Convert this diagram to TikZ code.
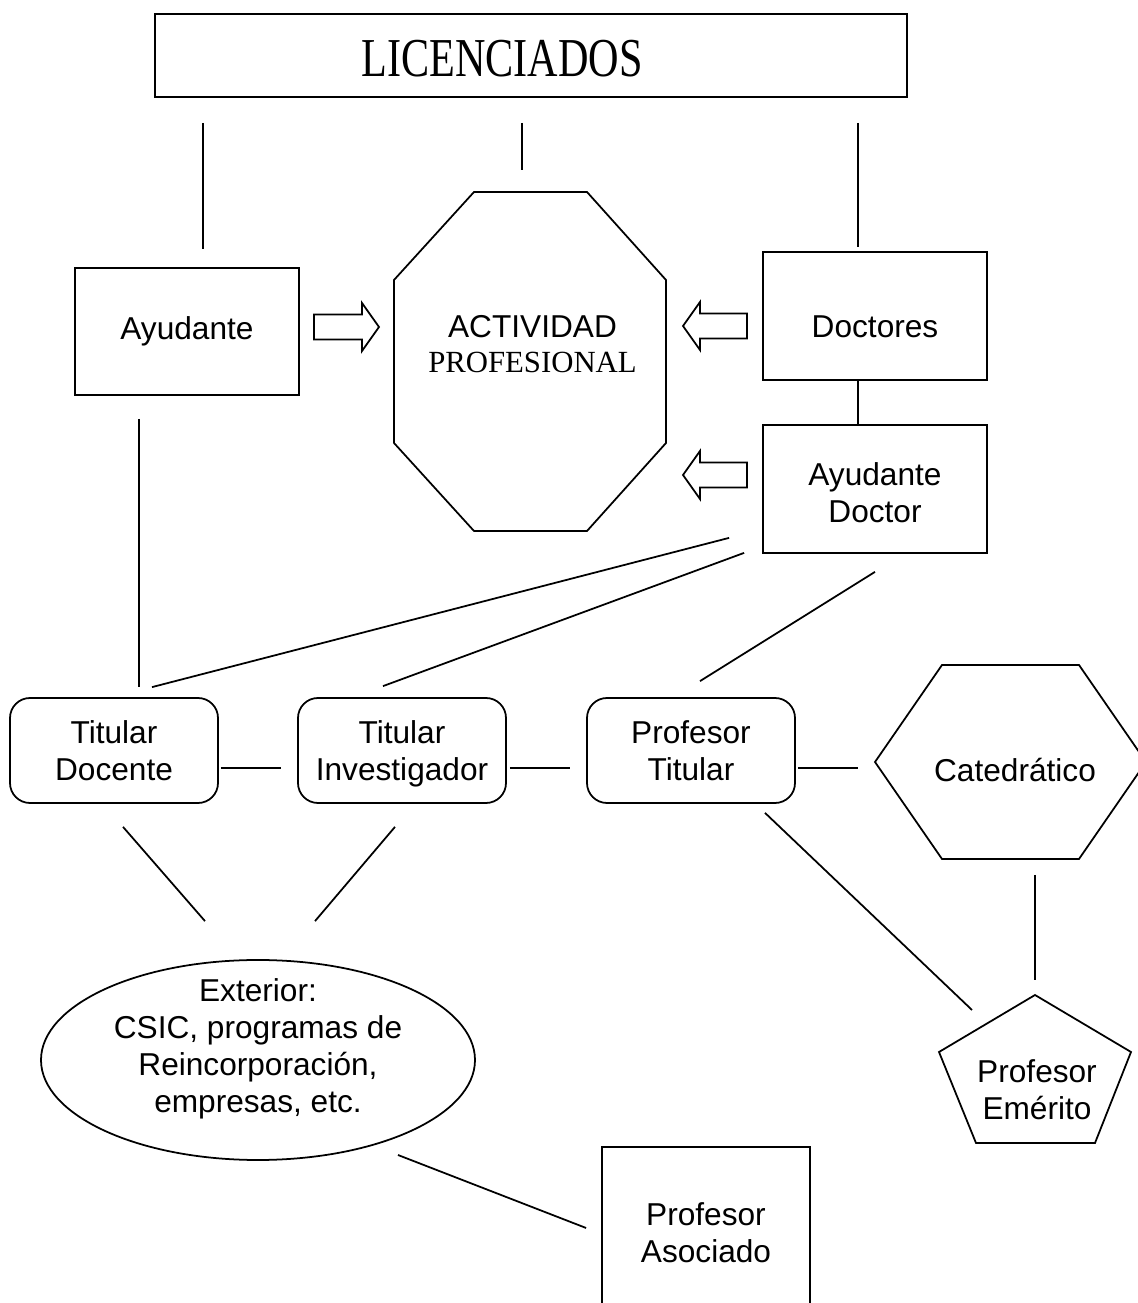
\documentclass[tikz,border=0pt]{standalone}
\usepackage{fontspec}
\setmainfont{Liberation Sans}
\newfontfamily\romana{Liberation Serif}
\usepackage{graphicx}
\usetikzlibrary{shapes.geometric,positioning}

\tikzset{
  caja/.style={draw,minimum width=4.48cm,minimum height=2.56cm,align=center,inner sep=0pt},
  plaza/.style={draw,rounded corners=0.4cm,minimum width=4.16cm,minimum height=2.10cm,align=center,inner sep=0pt,text depth=0pt},
  texto/.style={align=center,inner sep=0pt},
}

\begin{document}
\begin{tikzpicture}[line width=1pt,font=\fontsize{18}{21}\selectfont]
  \useasboundingbox (0,0) rectangle (22.76,26.06);
  \clip (0,0) rectangle (22.76,26.06);
  % licenciados
  \node[draw,minimum width=15.04cm,minimum height=1.66cm] (lic) at (10.62,24.95) {};
  \node[texto] at (10.04,24.88) {\romana\fontsize{24}{28}\selectfont\scalebox{1}[1.3]{LICENCIADOS}};
  % cajas
  \node[caja,minimum height=2.54cm] (ayud) at (3.74,19.43) {Ayudante};
  \node[caja,text height=24pt,text depth=0pt] (doct) at (17.50,19.74) {Doctores};
  \node[caja,text height=38.5pt,text depth=0pt] (ayd) at (17.50,16.28) {Ayudante\\Doctor};
  % actividad profesional
  \draw (7.88,20.46) -- (7.88,17.20) -- (9.48,15.44) -- (11.74,15.44) -- (13.32,17.20)
    -- (13.32,20.46) -- (11.74,22.22) -- (9.48,22.22) -- cycle;
  \coordinate (octa) at (10.44,22.22);
  \node[texto] (act) at (10.65,19.18) {ACTIVIDAD\\[-1pt]{\romana\fontsize{17.5}{21}\selectfont PROFESIONAL}};
  % flechas huecas
  \draw (6.28,19.27) -- (7.24,19.27) -- (7.24,19.04) -- (7.58,19.52) -- (7.24,20.00) -- (7.24,19.77) -- (6.28,19.77) -- cycle;
  \foreach \y in {19.54,16.56}
    \draw[shift={(0,\y)}] (14.94,-0.25) -- (14.00,-0.25) -- (14.00,-0.48) -- (13.66,0) -- (14.00,0.48) -- (14.00,0.25) -- (14.94,0.25) -- cycle;
  % titulares
  \node[plaza] (tdoc) at (2.28,11.05) {Titular\\Docente};
  \node[plaza] (tinv) at (8.04,11.05) {Titular\\Investigador};
  \node[plaza] (ptit) at (13.82,11.05) {Profesor\\Titular};
  % catedratico
  \draw (17.50,10.82) coordinate (hexi) -- (18.84,12.76) -- (21.58,12.76) -- (22.92,10.82)
    -- (21.58,8.88) -- (18.84,8.88) coordinate (hexb) -- cycle;
  \node[texto] (cat) at (20.30,10.66) {Catedrático};
  % emerito
  \draw (20.70,6.16) coordinate (pent) -- (22.62,5.02) -- (21.90,3.20) -- (19.52,3.20) -- (18.78,5.02) -- cycle;
  \node[texto] (emer) at (20.74,4.26) {Profesor\\Emérito};
  % exterior
  \node[draw,ellipse,minimum width=8.68cm,minimum height=4.00cm,inner sep=0pt] (ext) at (5.16,4.86) {};
  \node[texto] at (5.16,5.08) {Exterior:\\CSIC, programas de\\Reincorporación,\\empresas, etc.};
  % asociado
  \node[draw,minimum width=4.16cm,minimum height=3.42cm,align=center,inner sep=0pt] (pasoc) at (14.12,1.41) {Profesor\\Asociado};
  % conexiones
  \draw[shorten <=0.5cm,shorten >=0.36cm] ([xshift=0.32cm]ayud.north |- lic.south) -- ([xshift=0.32cm]ayud.north);
  \draw[shorten <=0.5cm,shorten >=0.44cm] (octa |- lic.south) -- (octa);
  \draw[shorten <=0.5cm,shorten >=0.08cm] ([xshift=-0.34cm]doct.north |- lic.south) -- ([xshift=-0.34cm]doct.north);
  \draw ([xshift=-0.34cm]doct.south) -- ([xshift=-0.34cm]ayd.north);
  \draw[shorten <=0.46cm,shorten >=0.2cm] ([xshift=0.5cm]tdoc.north |- ayud.south) -- ([xshift=0.5cm]tdoc.north);
  \draw ([shift={(-0.66,0.32)}]ayd.south west) -- ([shift={(0.76,0.20)}]tdoc.north);
  \draw ([shift={(-0.36,0.02)}]ayd.south west) -- ([shift={(-0.38,0.22)}]tinv.north);
  \draw ([shift={(0,-0.36)}]ayd.south) -- ([shift={(0.18,0.32)}]ptit.north);
  \draw[shorten <=0.04cm,shorten >=0.32cm] ([yshift=-0.35cm]tdoc.east) -- ([yshift=-0.35cm]tinv.west);
  \draw[shorten <=0.06cm,shorten >=0.32cm] ([yshift=-0.35cm]tinv.east) -- ([yshift=-0.35cm]ptit.west);
  \draw[shorten <=0.04cm,shorten >=0.34cm] ([yshift=-0.35cm]ptit.east) -- ([yshift=-0.35cm]ptit.east -| hexi);
  \draw[shorten <=0.32cm,shorten >=0.30cm] (pent |- hexb) -- (pent);
  \draw ([shift={(1.48,-0.18)}]ptit.south) -- ([shift={(-1.26,-0.30)}]pent);
  \draw ([shift={(0.18,-0.46)}]tdoc.south) -- ([shift={(-1.06,0.76)}]ext.north);
  \draw ([shift={(-0.14,-0.46)}]tinv.south) -- ([shift={(1.14,0.76)}]ext.north);
  \draw ([shift={(2.80,-1.90)}]ext.center) -- ([shift={(-0.30,0.09)}]pasoc.west);
\end{tikzpicture}
\end{document}
